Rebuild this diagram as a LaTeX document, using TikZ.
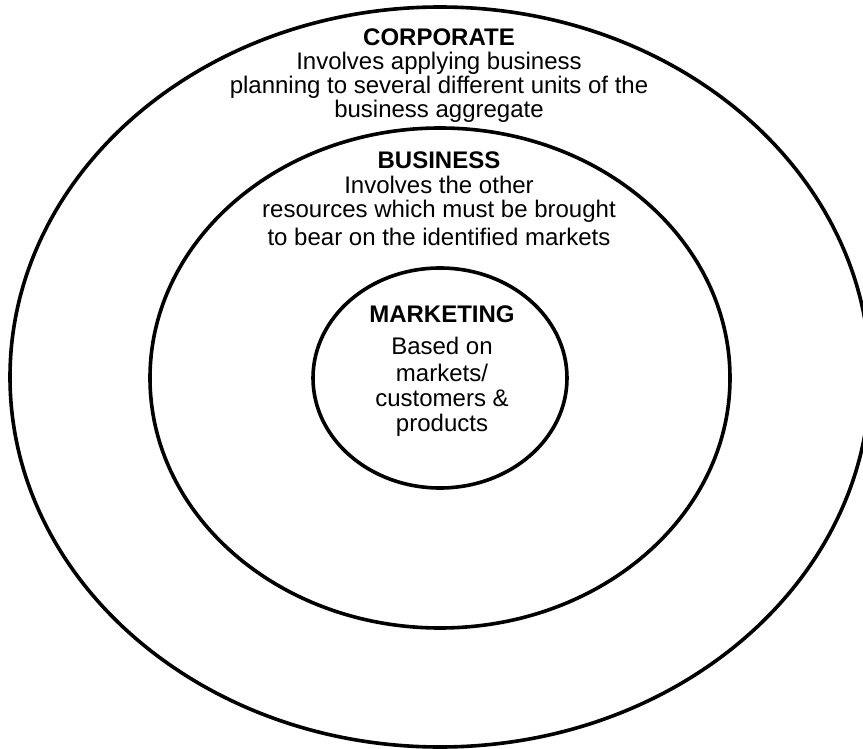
\documentclass[tikz,border=0pt]{standalone}
\usepackage{fontspec}
\setmainfont{Liberation Sans}
\usepackage{tikz}

\tikzset{
  ring/.style={draw=black,line width=3.6pt},
  txt/.style={inner sep=0pt,text height=17pt,text depth=5pt,font=\fontsize{24}{24}\selectfont},
  head/.style={txt,font=\fontsize{24}{24}\selectfont\bfseries}
}

\begin{document}
\begin{tikzpicture}[x=1pt,y=-1pt,node distance=24pt]

        \useasboundingbox (0,0) rectangle (863,749);

        % the three levels
        \draw[ring] (440,377) ellipse [x radius=430pt, y radius=370pt];
        \draw[ring] (440,378) ellipse [x radius=290pt, y radius=250pt];
        \draw[ring] (440,378) ellipse [x radius=127pt, y radius=110pt];

        \node[head]  (C0) at (439,40)               {CORPORATE};
        \node[txt]   (C1) [below of=C0]             {Involves applying business};
        \node[txt]   (C2) [below of=C1]             {planning to several different units of the};
        \node[txt]   (C3) [below of=C2]             {business aggregate};

        \node[head]  (B0) at (439,163)              {BUSINESS};
        \node[txt]   (B1) [below of=B0,node distance=25pt] {Involves the other};
        \node[txt]   (B2) [below of=B1]             {resources which must be brought};
        \node[txt]   (B3) [below of=B2,node distance=28pt] {to bear on the identified markets};

        \node[head]  (M0) at (442,316)              {MARKETING};
        \node[txt]   (M1) [below of=M0,node distance=32pt] {Based on};
        \node[txt]   (M2) [below of=M1,node distance=27pt] {markets/};
        \node[txt]   (M3) [below of=M2,node distance=25pt] {customers \&};
        \node[txt]   (M4) [below of=M3,node distance=25pt] {products};
      \end{tikzpicture}
\end{document}
